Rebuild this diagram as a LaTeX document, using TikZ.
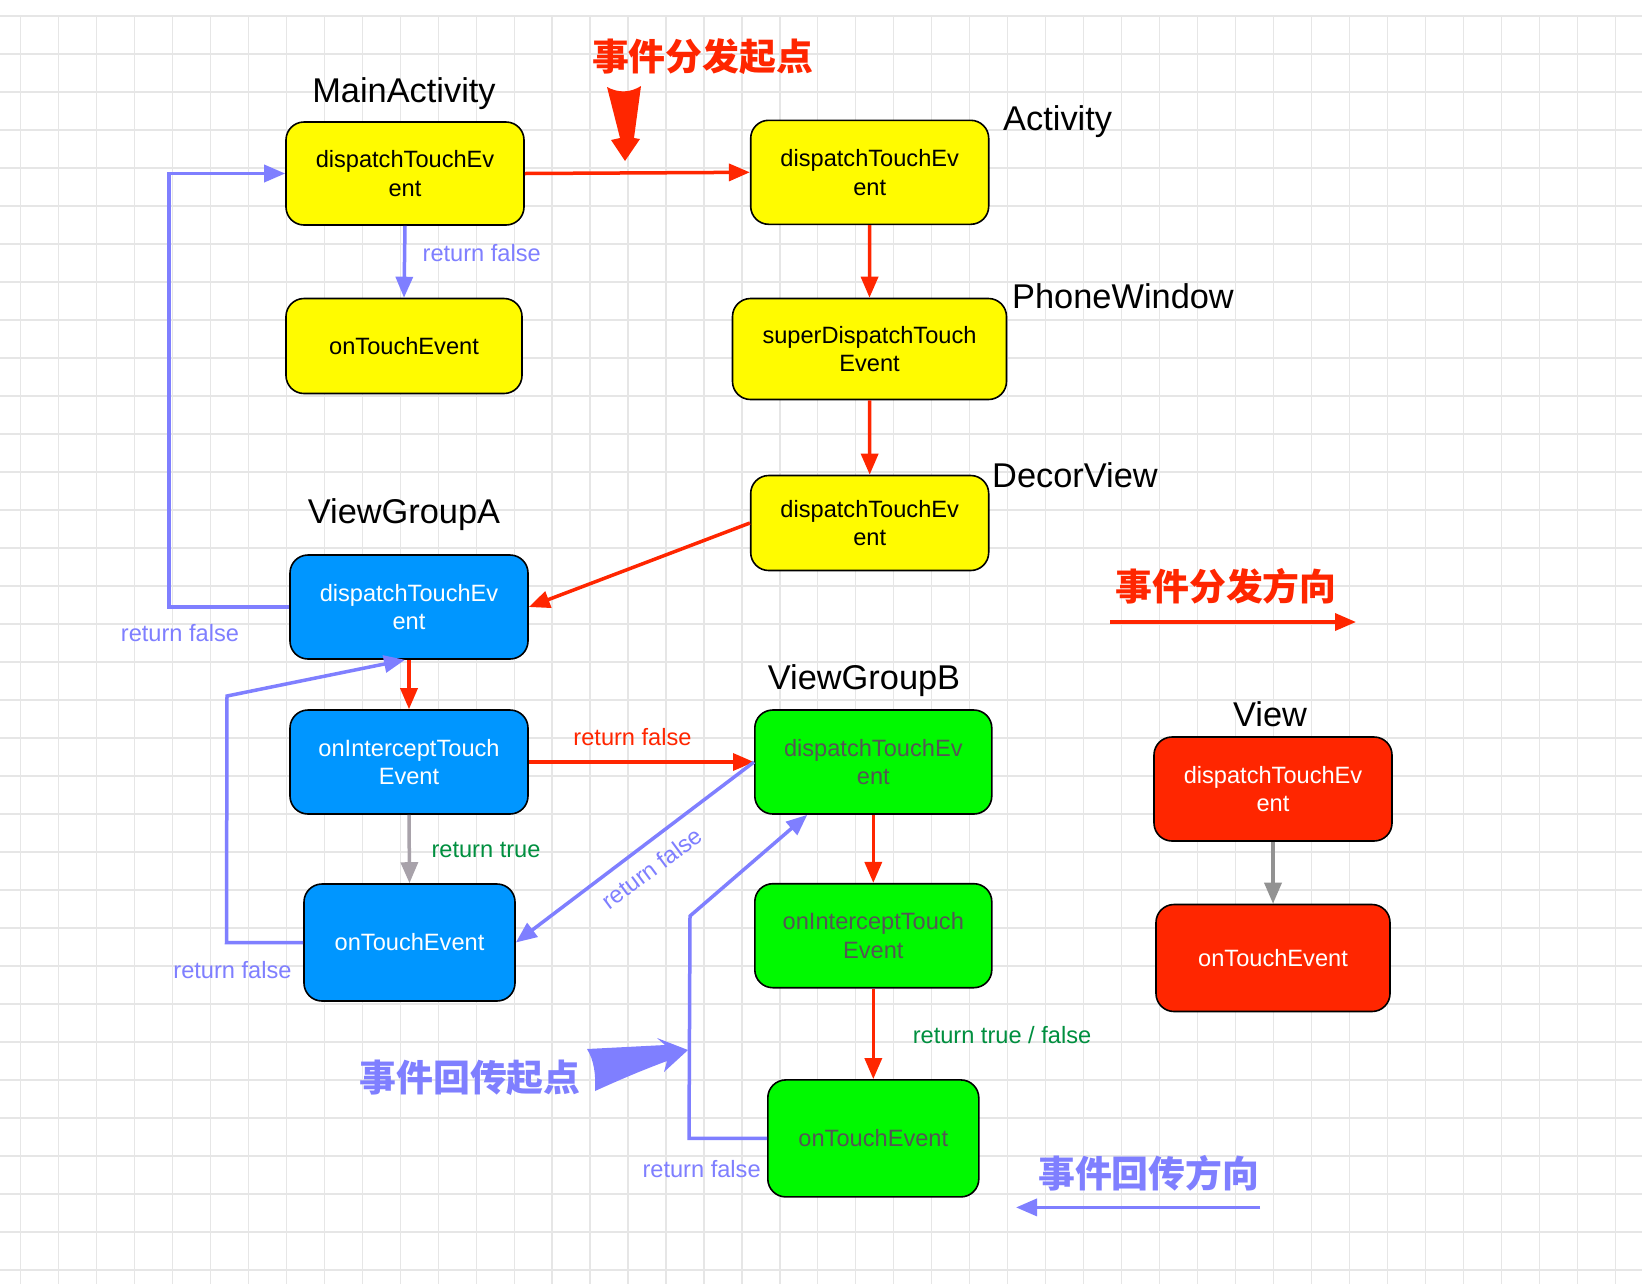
\documentclass[tikz,border=0pt]{standalone}
\usepackage{fontspec}
\setmainfont{Liberation Sans}
\newfontfamily\cjk{Noto Sans CJK SC}
\usetikzlibrary{arrows.meta,calc}

\definecolor{ylw}{HTML}{FFFB00}
\definecolor{aqua}{HTML}{0096FF}
\definecolor{lime}{HTML}{00F900}
\definecolor{redf}{HTML}{FF2600}
\definecolor{redc}{HTML}{FF2600}
\definecolor{lav}{HTML}{7F7FFF}
\definecolor{gtext}{HTML}{555555}
\definecolor{okgreen}{HTML}{008F3F}
\definecolor{greyA}{HTML}{A8A2AA}
\definecolor{greyB}{HTML}{929292}
\definecolor{gridc}{HTML}{E6E6E6}

\newcommand\bxfont{\fontsize{23.7}{29}\selectfont}
\newcommand\ttlfont{\fontsize{34.5}{40}\selectfont}
\newcommand\lbfont{\fontsize{23.7}{28}\selectfont}
\newcommand\cnfont{\cjk\bfseries\fontsize{37}{44}\selectfont}

\tikzset{
  box/.style={draw=black, line width=1.6bp, rounded corners=18bp, align=center,
              font=\bxfont, inner sep=0pt},
  ybox/.style={box, fill=ylw, text=black},
  bbox/.style={box, fill=aqua, text=white},
  gbox/.style={box, fill=lime, text=gtext},
  rbox/.style={box, fill=redf, text=white},
  ttl/.style={font=\ttlfont, text=black, inner sep=0pt},
  lbl/.style={font=\lbfont, inner sep=0pt},
  cn/.style={font=\cnfont, inner sep=0pt},
  tip/.style={-{Triangle[length=21bp,width=17bp]}},
  flow/.style={tip, draw=redc, line width=3.5bp},
  back/.style={tip, draw=lav, line width=3.5bp},
  flatA/.style={tip, draw=greyA, line width=3.5bp},
  flatB/.style={tip, draw=greyB, line width=3.5bp},
  gridline/.style={draw=gridc, line width=1.2bp},
}

\begin{document}
\begin{tikzpicture}[x=1bp,y=-1bp]
\useasboundingbox (0,0) rectangle (1642,1284);
\fill[white] (0,0) rectangle (1642,1284);

% background grid
\foreach \i in {0,...,42}
  \draw[gridline] ({20.5+37.97*\i},16) -- ({20.5+37.97*\i},1284);
\foreach \j in {0,...,33}
  \draw[gridline] (0,{16+38*\j}) -- (1642,{16+38*\j});

% MainActivity
\node[ttl] (tma) at (404,94) {MainActivity};
\node[ybox, minimum width=238bp, minimum height=103bp] (ma) at (405,173.5) {dispatchTouchEv\\ent};
\node[ybox, minimum width=236bp, minimum height=95bp] (maot) at (404,346) {onTouchEvent};

% Activity / PhoneWindow / DecorView
\node[ttl, anchor=west] (tac) at (1003,122) {Activity};
\node[ybox, minimum width=238bp, minimum height=104bp] (act) at (869.7,172.3) {dispatchTouchEv\\ent};
\node[ttl, anchor=west] (tpw) at (1012,296) {PhoneWindow};
\node[ybox, minimum width=274bp, minimum height=101bp] (pw) at (869.5,349) {superDispatchTouch\\Event};
\node[ttl, anchor=west] (tdv) at (992,475) {DecorView};
\node[ybox, minimum width=238bp, minimum height=95bp] (dv) at (869.7,523) {dispatchTouchEv\\ent};

% ViewGroupA
\node[ttl] (tva) at (404,515) {ViewGroupA};
\node[bbox, minimum width=238bp, minimum height=104bp] (vgad) at (409,607) {dispatchTouchEv\\ent};
\node[bbox, minimum width=238bp, minimum height=104bp] (vgai) at (409,762) {onInterceptTouch\\Event};
\node[bbox, minimum width=211bp, minimum height=117bp] (vgat) at (409.5,942.5) {onTouchEvent};

% ViewGroupB
\node[ttl] (tvb) at (864,680.5) {ViewGroupB};
\node[gbox, minimum width=237bp, minimum height=104bp] (vgbd) at (873.3,762) {dispatchTouchEv\\ent};
\node[gbox, minimum width=237bp, minimum height=104bp] (vgbi) at (873.3,935.7) {onInterceptTouch\\Event};
\node[gbox, minimum width=211bp, minimum height=117bp] (vgbt) at (873.3,1138.4) {onTouchEvent};

% View
\node[ttl] (tv) at (1270,714) {View};
\node[rbox, minimum width=238bp, minimum height=104bp] (vd) at (1273,789) {dispatchTouchEv\\ent};
\node[rbox, minimum width=234bp, minimum height=107bp] (vt) at (1273,958) {onTouchEvent};

% dispatch direction (red)
\draw[flow] (ma.east) -- (act.west);
\draw[flow] (act.south) -- (pw.north);
\draw[flow] (pw.south) -- (dv.north);
\draw[flow] (dv.west) -- (vgad.east);
\draw[flow] (vgad.south) -- (vgai.north);
\draw[flow] (vgai.east) -- (vgbd.west);
\draw[flow] (vgbd.south) -- (vgbi.north);
\draw[flow] (vgbi.south) -- (vgbt.north);

% consumed locally (grey)
\draw[flatA] (vgai.south) -- (vgat.north);
\draw[flatB] (vd.south) -- (vt.north);

% return path (lavender)
\draw[back] (ma.south) -- (maot.north);
\draw[back] (vgad.west) -- ++(-120,0) |- (ma.west);
\draw[back] (vgbd.west) -- (vgat.east);
\draw[back] (vgat.west) -- ++(-76.7,0) -- (227,696) -- ($(vgad.south)+(-4,0)$);
\draw[back] (vgbt.west) -- ++(-78,0) -- (690,916) -- ($(vgbd.south)+(-66,0)$);

% connector labels
\node[lbl, text=lav] (l1) at (481.7,253.4) {return false};
\node[lbl, text=lav] (l2) at (180,633.5) {return false};
\node[lbl, text=redc] (l3) at (632.5,737) {return false};
\node[lbl, text=okgreen] (l4) at (486,850) {return true};
\node[lbl, text=lav, rotate=36.6] (l5) at (652,868) {return false};
\node[lbl, text=lav] (l6) at (232.5,969.7) {return false};
\node[lbl, text=lav] (l7) at (701.6,1168.6) {return false};
\node[lbl, text=okgreen] (l8) at (1002,1034.6) {return true / false};

% start of dispatch
\node[cn, text=redc] (cs) at (702.7,56.5) {事件分发起点};
\fill[redc] (607,87) .. controls (618,93) and (630,93) .. (641,86)
  -- (634,138) -- (640,139) -- (625,161) -- (611,140) -- (620,138) -- cycle;

% dispatch direction legend
\node[cn, text=redc] (cd) at (1226,586.4) {事件分发方向};
\coordinate (rs) at (1110,622);
\coordinate (re) at (1356,622);
\draw[flow] (rs) -- (re);

% start of return
\node[cn, text=lav] (cr) at (470,1077.6) {事件回传起点};
\fill[lav] (587,1049) -- (665,1045) -- (657,1038) -- (688,1050) -- (664,1072)
  -- (667,1061) .. controls (640,1071) and (617,1081) .. (595,1091)
  .. controls (596,1075) and (594,1060) .. (587,1049) -- cycle;

% return direction legend
\node[cn, text=lav] (cb) at (1148.8,1172.9) {事件回传方向};
\coordinate (bs) at (1260,1207.4);
\coordinate (be) at (1016,1207.4);
\draw[back] (bs) -- (be);
\end{tikzpicture}
\end{document}
